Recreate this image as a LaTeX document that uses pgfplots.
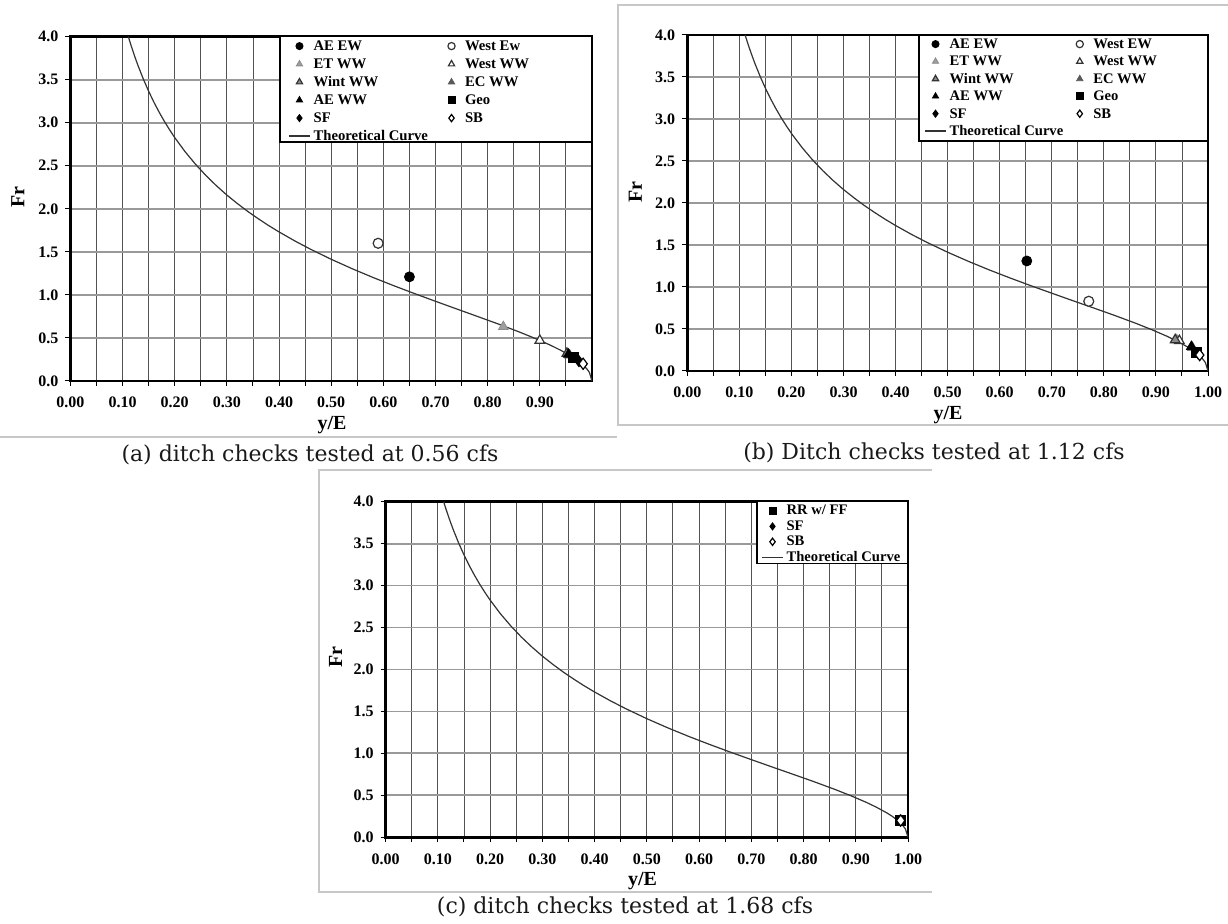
\documentclass[border=0pt]{standalone}
\usepackage{fontspec}
\setmainfont{Liberation Serif}
\newfontfamily\capfont{DejaVu Serif}
\usepackage{pgfplots}
\usepackage{pgfplotstable}
\pgfplotsset{compat=1.18}

% theoretical curve Fr vs y/E
\pgfplotstableread{
r Fr
0.1111 4.000
0.115 3.923
0.12 3.830
0.125 3.742
0.13 3.659
0.14 3.505
0.15 3.367
0.16 3.240
0.17 3.125
0.18 3.018
0.19 2.920
0.20 2.828
0.22 2.663
0.24 2.517
0.26 2.386
0.28 2.268
0.30 2.160
0.32 2.062
0.34 1.970
0.36 1.886
0.38 1.806
0.40 1.732
0.43 1.628
0.46 1.532
0.50 1.414
0.54 1.305
0.58 1.203
0.62 1.107
0.66 1.015
0.70 0.926
0.74 0.838
0.78 0.751
0.82 0.663
0.86 0.571
0.89 0.497
0.92 0.417
0.94 0.357
0.96 0.289
0.97 0.249
0.98 0.202
0.99 0.142
0.995 0.100
1.00 0.000
}\theory

\pgfplotsset{
  frbase/.style={
    scale only axis,
    xmin=0, xmax=1, ymin=0, ymax=4,
    ytick={0,0.5,...,4},
    minor xtick={0.05,0.15,0.25,0.35,0.45,0.55,0.65,0.75,0.85,0.95},
    xmajorgrids, xminorgrids, ymajorgrids,
    major x grid style={black!68, line width=0.45pt},
    minor x grid style={black!68, line width=0.45pt},
    major y grid style={black!40, line width=0.9pt},
    axis line style={line width=1.25pt},
    tick align=outside, xtick pos=bottom, ytick pos=left,
    major tick length=2.5pt, minor tick length=2.5pt,
    every tick/.style={black, line width=0.5pt},
    /pgf/number format/assume math mode=true,
    tick label style={font=\bfseries\fontsize{8}{9}\selectfont},
    xticklabel style={/pgf/number format/fixed, /pgf/number format/fixed zerofill, /pgf/number format/precision=2, yshift=-2pt},
    yticklabel style={/pgf/number format/fixed, /pgf/number format/fixed zerofill, /pgf/number format/precision=1},
    xlabel={y/E}, ylabel={Fr},
    label style={font=\bfseries\fontsize{10}{11}\selectfont},
    legend cell align=left,
    legend image code/.code={\path[draw=none, fill=none] (0pt,-1pt) rectangle (10.5pt,1pt);
      \draw[mark repeat=2,mark phase=2,##1,mark size=1.8pt] plot coordinates {(0pt,0pt)(5.25pt,0pt)(10.5pt,0pt)};},
  },
  theo/.style={black!80, line width=0.6pt, no marks,
    legend image code/.code={\draw[##1] (0pt,0pt)--(10.5pt,0pt);}},
  aeew/.style={only marks, mark=*, mark size=2.5pt, mark options={fill=black, draw=black}},
  westew/.style={only marks, mark=*, mark size=2.5pt, mark options={fill=white, draw=black!80, line width=0.6pt}},
  etww/.style={only marks, mark=triangle*, mark size=2.8pt, mark options={fill=black!38, draw=black!45}},
  westww/.style={only marks, mark=triangle*, mark size=2.8pt, mark options={fill=white, draw=black!80, line width=0.6pt}},
  wintww/.style={only marks, mark=triangle*, mark size=2.8pt, mark options={fill=black!45, draw=black!80, line width=0.6pt}},
  ecww/.style={only marks, mark=triangle*, mark size=2.8pt, mark options={fill=black!65, draw=black!65}},
  aeww/.style={only marks, mark=triangle*, mark size=2.8pt, mark options={fill=black, draw=black}},
  geo/.style={only marks, mark=square*, mark size=2.5pt, mark options={fill=black, draw=black}},
  sf/.style={only marks, mark=diamond*, mark size=2.8pt, mark options={fill=black, draw=black}},
  sb/.style={only marks, mark=diamond*, mark size=2.8pt, mark options={fill=white, draw=black, line width=0.6pt}},
}

\begin{document}
\begin{tikzpicture}
\path[use as bounding box] (0pt,0pt) rectangle (614pt,-462pt);

% frames and rules around the panels
\draw[black!22, line width=0.8pt] (0pt,-218.5pt) -- (308.5pt,-218.5pt);
\draw[black!22, line width=0.8pt] (614pt,-2.5pt) -- (309pt,-2.5pt) -- (309pt,-212.5pt) -- (614pt,-212.5pt);
\draw[black!22, line width=0.8pt] (466pt,-235pt) -- (159.5pt,-235pt) -- (159.5pt,-446pt) -- (466pt,-446pt);

% (a)
\begin{axis}[frbase,
  at={(35.2pt,-190.5pt)}, anchor=south west,
  width=260.8pt, height=172.15pt,
  xtick={0,0.1,0.2,0.3,0.4,0.5,0.6,0.7,0.8,0.9},
  xlabel style={at={(axis description cs:0.5015,-0.128)}, anchor=center},
  ylabel style={at={(axis description cs:-0.1008,0.534)}, anchor=center},
  legend columns=2,
  legend style={at={(0.4018,1)}, anchor=north west, draw=none, fill=none,
    inner xsep=4pt, inner ysep=0pt,
    font=\bfseries\fontsize{7.35}{9}\selectfont,
    nodes={inner xsep=1.5pt, inner ysep=0.75pt, text height=6pt, text depth=1.5pt},
    /tikz/every even column/.append style={column sep=5pt}},
]
\draw[black, line width=0.6pt, fill=white] (rel axis cs:0.4018,1) rectangle (rel axis cs:1,0.694);
\addplot[aeew] coordinates {(0.65,1.21)};
\addlegendentry{AE EW}
\addplot[westew] coordinates {(0.59,1.60)};
\addlegendentry{West Ew}
\addplot[etww] coordinates {(0.83,0.63)};
\addlegendentry{ET WW}
\addplot[westww] coordinates {(0.90,0.47)};
\addlegendentry{West WW}
\addplot[wintww] coordinates {(0.952,0.32)};
\addlegendentry{Wint WW}
\addplot[ecww] coordinates {(0.957,0.30)};
\addlegendentry{EC WW}
\addplot[aeww] coordinates {(0.955,0.31)};
\addlegendentry{AE WW}
\addplot[geo] coordinates {(0.965,0.27)};
\addlegendentry{Geo}
\addplot[sf] coordinates {(0.975,0.23)};
\addlegendentry{SF}
\addplot[sb] coordinates {(0.983,0.20)};
\addlegendentry{SB}
\addplot[theo] table[x=r, y=Fr] {\theory};
\addlegendentry{Theoretical Curve}
\end{axis}

% (b)
\begin{axis}[frbase,
  at={(343.65pt,-185.5pt)}, anchor=south west,
  width=260.35pt, height=168pt,
  xtick={0,0.1,0.2,0.3,0.4,0.5,0.6,0.7,0.8,0.9,1.0},
  xlabel style={at={(axis description cs:0.5007,-0.131)}, anchor=center},
  ylabel style={at={(axis description cs:-0.100,0.533)}, anchor=center},
  legend columns=2,
  legend style={at={(0.445,1)}, anchor=north west, draw=none, fill=none,
    inner xsep=2.5pt, inner ysep=0pt,
    font=\bfseries\fontsize{7.3}{9}\selectfont,
    nodes={inner xsep=1.5pt, inner ysep=0.6pt, text height=6pt, text depth=1.5pt},
    /tikz/every even column/.append style={column sep=1.5pt}},
]
\draw[black, line width=0.6pt, fill=white] (rel axis cs:0.445,1) rectangle (rel axis cs:1,0.6845);
\addplot[aeew] coordinates {(0.652,1.31)};
\addlegendentry{AE EW}
\addplot[westew] coordinates {(0.771,0.83)};
\addlegendentry{West EW}
\addplot[etww] coordinates {(0.940,0.37)};
\addlegendentry{ET WW}
\addplot[westww] coordinates {(0.945,0.36)};
\addlegendentry{West WW}
\addplot[wintww] coordinates {(0.937,0.37)};
\addlegendentry{Wint WW}
\addplot[ecww] coordinates {(0.970,0.28)};
\addlegendentry{EC WW}
\addplot[aeww] coordinates {(0.968,0.29)};
\addlegendentry{AE WW}
\addplot[geo] coordinates {(0.978,0.22)};
\addlegendentry{Geo}
\addplot[sf] coordinates {(0.981,0.21)};
\addlegendentry{SF}
\addplot[sb] coordinates {(0.984,0.19)};
\addlegendentry{SB}
\addplot[theo] table[x=r, y=Fr] {\theory};
\addlegendentry{Theoretical Curve}
\end{axis}

% (c)
\begin{axis}[frbase,
  at={(192.8pt,-418.65pt)}, anchor=south west,
  width=261.2pt, height=167.8pt,
  xtick={0,0.1,0.2,0.3,0.4,0.5,0.6,0.7,0.8,0.9,1.0},
  xlabel style={at={(axis description cs:0.492,-0.130)}, anchor=center},
  ylabel style={at={(axis description cs:-0.096,0.537)}, anchor=center},
  legend style={at={(0.711,1)}, anchor=north west, draw=none, fill=none,
    inner xsep=2pt, inner ysep=0.6pt,
    font=\bfseries\fontsize{7.3}{9}\selectfont,
    nodes={inner xsep=1.5pt, inner ysep=0.45pt, text height=5.3pt, text depth=1.5pt}},
]
\draw[black, line width=0.6pt, fill=white] (rel axis cs:0.711,1) rectangle (rel axis cs:1,0.817);
\addplot[geo] coordinates {(0.985,0.20)};
\addlegendentry{RR w/ FF}
\addplot[sf] coordinates {(0.985,0.20)};
\addlegendentry{SF}
\addplot[sb] coordinates {(0.986,0.20)};
\addlegendentry{SB}
\addplot[theo] table[x=r, y=Fr] {\theory};
\addlegendentry{Theoretical Curve}
\end{axis}

% captions
\node[font=\capfont\fontsize{11}{13}\selectfont, text=black!90] at (155pt,-227.5pt) {(a) ditch checks tested at 0.56 cfs};
\node[font=\capfont\fontsize{11}{13}\selectfont, text=black!90] at (467pt,-226.5pt) {(b) Ditch checks tested at 1.12 cfs};
\node[font=\capfont\fontsize{11}{13}\selectfont, text=black!90] at (312.5pt,-453.5pt) {(c) ditch checks tested at 1.68 cfs};
\end{tikzpicture}
\end{document}
